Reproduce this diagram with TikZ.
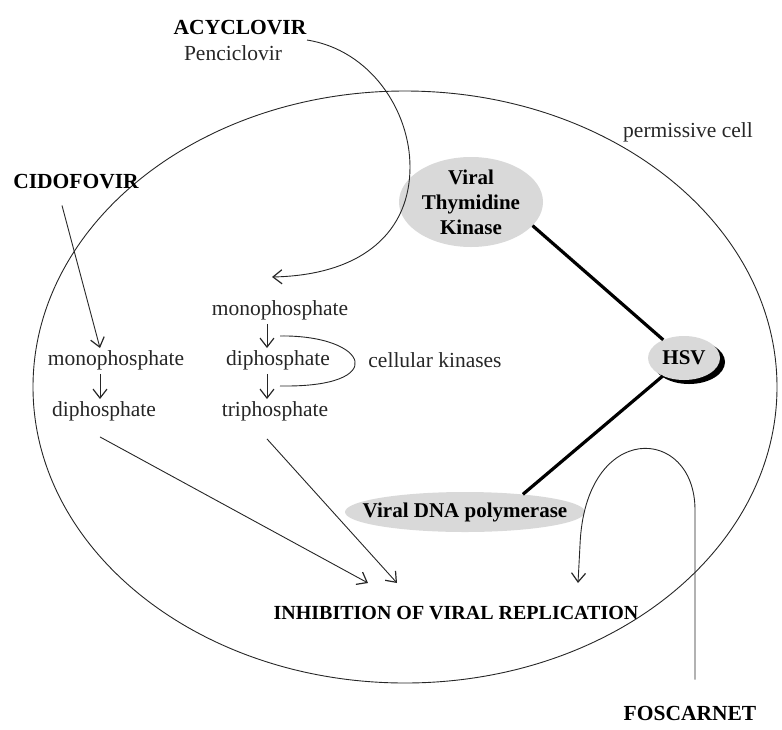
\documentclass[tikz,border=0pt]{standalone}
\usepackage{fontspec}
\setmainfont{Liberation Serif}
\usetikzlibrary{shapes.geometric,arrows.meta}
\begin{document}
\begin{tikzpicture}[x=1pt,y=-1pt,
  lbl/.style={inner sep=0pt, font=\fontsize{21.5}{24}\selectfont, text=black!85},
  blbl/.style={inner sep=0pt, font=\fontsize{21.5}{25}\selectfont\bfseries, text=black},
  enzshape/.style={ellipse, fill=black!15, inner sep=0pt},
  enztext/.style={inner sep=0pt, font=\fontsize{21}{25}\selectfont\bfseries, align=center},
  thin/.style={line width=0.9pt, black!85},
  thick/.style={line width=3.2pt, black},
  arr/.style={thin, -{Straight Barb[length=9pt,width=14pt,line width=1.2pt]}},
]
\useasboundingbox (0,0) rectangle (782,729);
\node[ellipse, draw, line width=0.9pt, black!85, minimum width=744, minimum height=592, inner sep=0pt] (cell) at (405,387) {};
\node[lbl] (perm) at (688,132) {permissive cell};

\node[blbl] (acy) at (240,28) {ACYCLOVIR};
\node[lbl] (pen) at (233,53) {Penciclovir};
\node[blbl] (cido) at (76,182) {CIDOFOVIR};

\node[lbl] (m1) at (116,360) {monophosphate};
\node[lbl] (d1) at (104,411) {diphosphate};
\node[lbl] (m2) at (280,310) {monophosphate};
\node[lbl] (d2) at (278,360) {diphosphate};
\node[lbl] (t2) at (275,411) {triphosphate};
\node[lbl] (ck) at (435,360) {cellular kinases};

\node[enzshape, minimum width=144, minimum height=90] (tk) at (471,202) {};
\node[enztext] (tkt) at (tk) {Viral\\Thymidine\\Kinase};
\fill[black] (689,362) ellipse[x radius=36, y radius=22];
\node[enzshape, minimum width=72, minimum height=44] (hsv) at (684,358) {};
\node[enztext] (hsvt) at (hsv) {HSV};
\node[enzshape, minimum width=240, minimum height=40] (pol) at (465,512) {};
\node[enztext] (polt) at (pol) {Viral DNA polymerase};

\node[blbl, font=\fontsize{20}{24}\selectfont\bfseries] (inhib) at (456,613) {INHIBITION OF VIRAL REPLICATION};
\node[blbl] (fos) at (690,713) {FOSCARNET};

\coordinate (acyS) at (307,40);
\coordinate (acyE) at (272,277);
\coordinate (in1) at (368,583);
\coordinate (in2) at (397,583);
\coordinate (in3) at (578,583);

% acyclovir into the cell
\draw[arr] (acyS) .. controls (370,50) and (410,110) .. (410,167)
  .. controls (410,230) and (365,275) .. (acyE);
% cidofovir
\draw[arr] ([shift={(-14,16)}]cido.south) -- ([shift={(-16,-2)}]m1.north);
\draw[arr] ([shift={(-16,4)}]m1.south) -- ([shift={(-4,-2)}]d1.north);
% kinase steps
\draw[arr] ([shift={(-13,4)}]m2.south) -- ([shift={(-11,-2)}]d2.north);
\draw[arr] ([shift={(-11,4)}]d2.south) -- ([shift={(-8,-2)}]t2.north);
\draw[thin] ([shift={(0,16)}]m2.south) .. controls (370,335) and (390,388) .. ([shift={(2,16)}]d2.south);
% to inhibition
\draw[arr] ([shift={(-4,16)}]d1.south) -- (in1);
\draw[arr] ([shift={(-8,18)}]t2.south) -- (in2);
% enzyme links
\draw[thick] (tk.-21) -- (hsv);
\draw[thick] (hsv) -- (pol.17);
% foscarnet
\draw[arr] ([shift={(5,-26)}]fos.north) -- (695,510)
  .. controls (695,425) and (585,420) .. (580,545) -- (in3);
\end{tikzpicture}
\end{document}
